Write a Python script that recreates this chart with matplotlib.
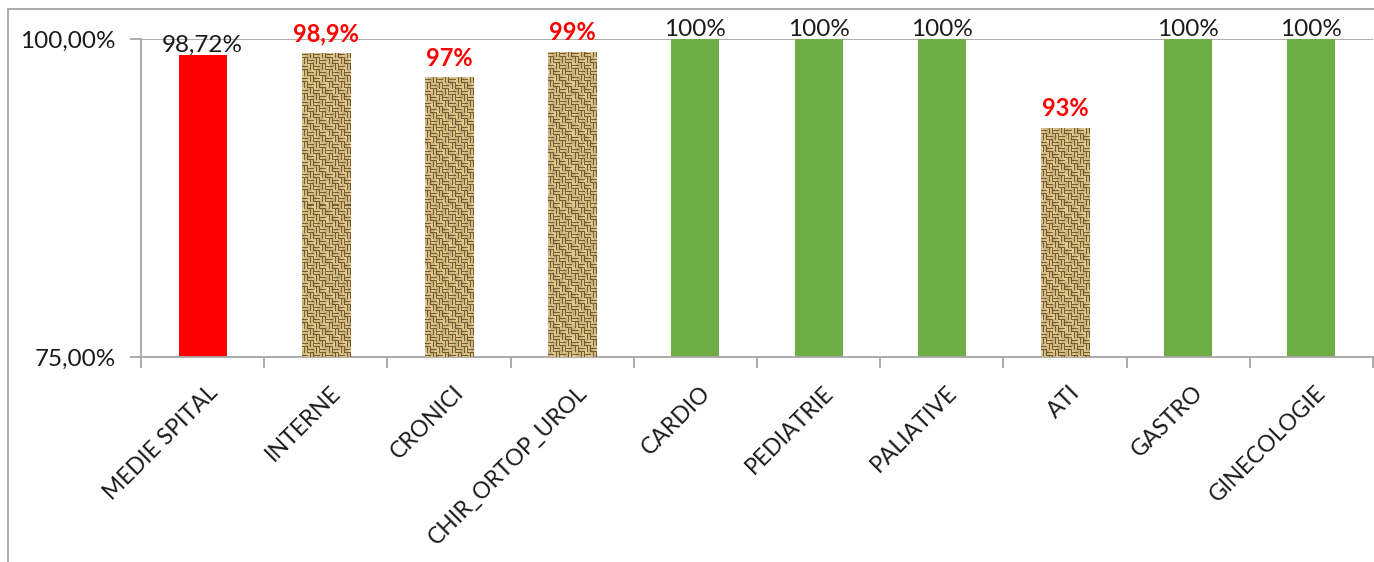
import matplotlib
matplotlib.use("Agg")
import matplotlib.pyplot as plt
import matplotlib.transforms as mtransforms
from matplotlib.lines import Line2D
import numpy as np

plt.rcParams['font.family'] = ['Lato', 'DejaVu Sans']

categories = ['MEDIE SPITAL', 'INTERNE', 'CRONICI', 'CHIR_ORTOP_UROL', 'CARDIO',
              'PEDIATRIE', 'PALIATIVE', 'ATI', 'GASTRO', 'GINECOLOGIE']
values = [98.72, 98.9, 97, 99, 100, 100, 100, 93, 100, 100]
labels = ['98,72%', '98,9%', '97%', '99%', '100%', '100%', '100%', '93%', '100%', '100%']
# fill: 'red' for the hospital average, 'burlap' below target, 'green' at target
fills = ['red', 'burlap', 'burlap', 'burlap', 'green', 'green', 'green', 'burlap', 'green', 'green']
yticks = [75, 100]
ytick_labels = ['75,00%', '100,00%']


def burlap(h, w):
    # woven basket texture, one array cell per screen pixel
    i, j = np.mgrid[0:h, 0:w]
    horiz = ((i // 6 + j // 6) % 2) == 0
    line = np.where(horiz, i % 3 == 2, j % 3 == 2)
    light = np.array([0.93, 0.84, 0.60])
    dark = np.array([0.55, 0.41, 0.19])
    shade = (0.88 + 0.07 * np.sin(i * 0.37 + j * 0.11) * np.cos(j * 0.53)
             + 0.05 * np.sin(i * 1.3) * np.sin(j * 1.7))
    img = np.where(line[..., None], dark, light) * shade[..., None]
    return np.clip(img, 0, 1)


fig = plt.figure(figsize=(13.74, 5.62), dpi=100)
ax = fig.add_axes([141 / 1374, 1 - 357 / 562, 1232 / 1374, 318 / 562])

x = np.arange(len(categories))
width = 0.39
colors = {'red': '#ff0000', 'green': '#70ad47', 'burlap': '#d2b878'}
bars = ax.bar(x, [v - 75 for v in values], width, bottom=75,
              color=[colors[f] for f in fills], zorder=2)

ax.set_xlim(-0.5, len(categories) - 0.5)
ax.set_ylim(75, 100)

for b, v, f in zip(bars, values, fills):
    if f != 'burlap':
        continue
    h = int(round((v - 75) / 25 * 318))
    w = int(round(width * 123.2))
    x0 = b.get_x()
    im = ax.imshow(burlap(h, w), extent=(x0, x0 + width, 75, v), aspect='auto',
                   interpolation='nearest', zorder=3)
    im.set_clip_path(b)

for xi, v, lab, f in zip(x, values, labels, fills):
    if f == 'burlap':
        ax.text(xi, v + 0.6, lab, ha='center', va='bottom', fontsize=17,
                color='#ff0000', fontweight='bold', zorder=5)
    else:
        ax.text(xi, v - 0.05, lab, ha='center', va='bottom', fontsize=17.5,
                color='#1a1a1a', zorder=5)

# top gridline
ax.axhline(100, color='#a6a6a6', lw=1.3, zorder=1)

for s in ['top', 'right']:
    ax.spines[s].set_visible(False)
for s in ['left', 'bottom']:
    ax.spines[s].set_color('#a6a6a6')
    ax.spines[s].set_linewidth(1.3)

ax.set_yticks(yticks)
ax.set_yticklabels(ytick_labels, fontsize=17.5, color='#1a1a1a')
ax.tick_params(axis='y', length=8, color='#a6a6a6', width=1.3, pad=10)

ax.set_xticks(np.arange(-0.5, len(categories)), minor=True)
ax.set_xticks(x)
ax.set_xticklabels(categories, rotation=45, ha='right', rotation_mode='anchor',
                   fontsize=16.5, color='#1a1a1a')
ax.tick_params(axis='x', which='major', length=0, pad=18)
ax.tick_params(axis='x', which='minor', length=8, color='#a6a6a6', width=1.3)
offset = mtransforms.ScaledTranslation(0.04, 0, fig.dpi_scale_trans)
for t in ax.get_xticklabels():
    t.set_transform(t.get_transform() + offset)

# chart frame
fig.add_artist(Line2D([8 / 1374, 8 / 1374], [0, 1 - 9 / 562], color='#a6a6a6', lw=1.3))
fig.add_artist(Line2D([8 / 1374, 1], [1 - 9 / 562, 1 - 9 / 562], color='#a6a6a6', lw=1.3))

fig.savefig('out.png', dpi=100)
